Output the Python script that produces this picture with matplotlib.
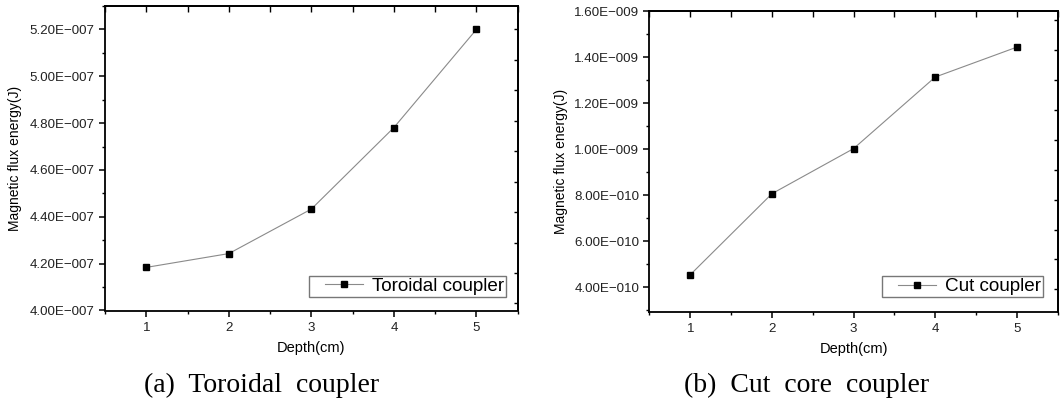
import matplotlib
matplotlib.use("Agg")
import matplotlib.pyplot as plt
from matplotlib.ticker import MultipleLocator, FuncFormatter
from matplotlib.legend_handler import HandlerLine2D
import math

# ---- data ----
depth = [1, 2, 3, 4, 5]
toroidal_energy = [4.184e-7, 4.243e-7, 4.433e-7, 4.781e-7, 5.20e-7]
cut_energy = [4.54e-10, 8.06e-10, 1.002e-9, 1.313e-9, 1.443e-9]
series_labels = ["Toroidal coupler", "Cut coupler"]
captions = ["(a)  Toroidal  coupler", "(b)  Cut  core  coupler"]
xlabel = "Depth(cm)"
ylabel = "Magnetic flux energy(J)"

plt.rcParams['font.family'] = ['Liberation Sans', 'DejaVu Sans']

W, H = 1061, 398
fig = plt.figure(figsize=(W / 100, H / 100), dpi=100)


def px_axes(x0, x1, ytop, ybot):
    return fig.add_axes([x0 / W, 1 - ybot / H, (x1 - x0) / W, (ybot - ytop) / H])


def sci_fmt(v, pos):
    if v == 0:
        return "0"
    e = int(math.floor(math.log10(abs(v)) + 1e-9))
    m = v / 10 ** e
    if round(m, 2) >= 10:
        m /= 10
        e += 1
    sign = "\u2212" if e < 0 else "+"
    return f"{m:.2f}E{sign}{abs(e):03d}"


def style(ax, y, label, ylim, major, minor, right_step, leg_px, ylab_x):
    ax.plot(depth, y, color='#8a8a8a', lw=0.8, marker='s', ms=4.6,
            mfc='black', mec='black', label=label)
    ax.set_xlim(0.5, 5.5)
    ax.set_ylim(*ylim)
    ax.xaxis.set_major_locator(MultipleLocator(1))
    ax.xaxis.set_minor_locator(MultipleLocator(0.5))
    ax.yaxis.set_major_locator(MultipleLocator(major))
    ax.yaxis.set_minor_locator(MultipleLocator(minor))
    ax.yaxis.set_major_formatter(FuncFormatter(sci_fmt))
    for s in ax.spines.values():
        s.set_linewidth(1.3)
    ax.tick_params(which='major', direction='out', length=4, width=1.1,
                   labelsize=9.6, pad=3.5, colors='black', labelcolor='#222222')
    ax.tick_params(which='minor', direction='out', length=2.5, width=1.0)
    ax.tick_params(axis='x', which='major', pad=4)
    ax.set_xlabel(xlabel, fontsize=10.5, labelpad=5)
    ax.set_ylabel(ylabel, fontsize=10)
    pos = ax.get_position()
    ax.yaxis.set_label_coords((ylab_x - pos.x0 * W) / (pos.width * W), 0.5)

    top = ax.secondary_xaxis('top')
    top.xaxis.set_major_locator(MultipleLocator(1))
    top.xaxis.set_minor_locator(MultipleLocator(0.5))
    top.tick_params(which='both', direction='in', length=4.5, width=1.0, labeltop=False)
    top.spines['top'].set_linewidth(1.3)

    right = ax.secondary_yaxis('right')
    right.yaxis.set_major_locator(MultipleLocator(right_step))
    right.yaxis.set_minor_locator(MultipleLocator(right_step))
    right.tick_params(which='both', direction='in', length=3, width=1.0, labelright=False)
    right.spines['right'].set_linewidth(1.3)

    leg = ax.legend(loc='lower right', bbox_to_anchor=(leg_px[0] / W, 1 - leg_px[1] / H),
                    bbox_transform=fig.transFigure, fontsize=13.6, frameon=True,
                    fancybox=False, borderpad=0.1, handlelength=2.75,
                    handletextpad=0.5, borderaxespad=0,
                    handler_map={ax.lines[0]: HandlerLine2D(numpoints=1, xpad=0.75)})
    fr = leg.get_frame()
    fr.set_edgecolor('#555555')
    fr.set_linewidth(1.0)


ax1 = px_axes(105, 517.7, 6, 310.5)
style(ax1, toroidal_energy, series_labels[0], (4.0e-7, 5.3e-7), 2e-8, 1e-8, 1.3e-8,
      (506, 296.5), 22)

ax2 = px_axes(649.5, 1057.7, 11, 311.5)
style(ax2, cut_energy, series_labels[1], (2.94e-10, 1.6e-9), 2e-10, 1e-10, 1.3e-10,
      (1043, 297), 567.5)

fig.text(261.5 / W, 1 - 391.5 / H, captions[0], ha='center', va='baseline',
         fontsize=20, family=['Liberation Serif', 'DejaVu Serif'])
fig.text(806.5 / W, 1 - 391.5 / H, captions[1], ha='center', va='baseline',
         fontsize=20, family=['Liberation Serif', 'DejaVu Serif'])

fig.savefig("out.png", dpi=100)
